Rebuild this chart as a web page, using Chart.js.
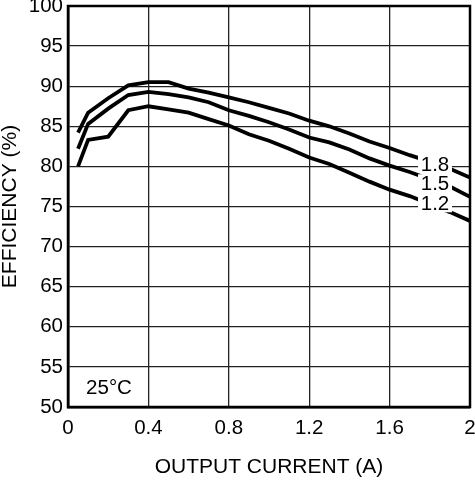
<!DOCTYPE html>
<html>
<head>
<meta charset="utf-8">
<script src="https://cdn.jsdelivr.net/npm/chart.js@4.4.1/dist/chart.umd.min.js"></script>
<style>
html,body{margin:0;padding:0;background:#fff;}
#wrap{width:475px;height:480px;position:relative;}
</style>
</head>
<body>
<div id="wrap"><canvas id="c" width="475" height="480"></canvas></div>
<script>
const currents = [0.05, 0.1, 0.2, 0.3, 0.4, 0.5, 0.6, 0.7, 0.8, 0.9, 1.0, 1.1, 1.2, 1.3, 1.4, 1.5, 1.6, 1.7, 1.8, 1.9, 2.0];
const eff18 = [84.2, 86.7, 88.5, 90.1, 90.5, 90.5, 89.7, 89.2, 88.6, 88.0, 87.3, 86.6, 85.7, 85.0, 84.1, 83.1, 82.3, 81.4, 80.6, 79.7, 78.6];
const eff15 = [82.2, 85.3, 87.2, 88.9, 89.3, 89.0, 88.6, 88.0, 87.0, 86.3, 85.5, 84.6, 83.6, 83.0, 82.1, 81.0, 80.1, 79.3, 78.4, 77.5, 76.2];
const eff12 = [80.0, 83.3, 83.7, 87.0, 87.5, 87.1, 86.7, 85.9, 85.1, 84.0, 83.2, 82.2, 81.1, 80.3, 79.2, 78.1, 77.1, 76.3, 75.3, 74.3, 73.2];
const seriesNames = ['1.8', '1.5', '1.2'];
const labelX = 1.826;
const labelY = [80.3, 77.9, 75.4];
const xTicks = [0, 0.4, 0.8, 1.2, 1.6, 2];
const yMin = 50, yMax = 100, yStep = 5;
const tempNote = '25°C';
const xTitle = 'OUTPUT CURRENT (A)';
const yTitle = 'EFFICIENCY (%)';

const FONT = 'Liberation Sans, Arial, sans-serif';

function pts(ys){ return currents.map((x,i)=>({x:x, y:ys[i]})); }

const annot = {
  id: 'annot',
  afterDatasetsDraw(chart){
    const ctx = chart.ctx;
    const xs = chart.scales.x, ys = chart.scales.y;
    const a = chart.chartArea;
    ctx.save();
    ctx.font = '20.5px ' + FONT;
    ctx.textAlign = 'center';
    ctx.textBaseline = 'middle';
    seriesNames.forEach((n,i)=>{
      const px = xs.getPixelForValue(labelX);
      const py = ys.getPixelForValue(labelY[i]);
      ctx.fillStyle = '#fff';
      ctx.fillRect(px-17, py-9, 34, 18);
      ctx.fillStyle = '#000';
      ctx.fillText(n, px, py+1);
    });
    ctx.textAlign = 'left';
    ctx.fillText(tempNote, xs.getPixelForValue(0.09), ys.getPixelForValue(52.3));
    // frame
    ctx.strokeStyle = '#000';
    ctx.lineWidth = 2.5;
    ctx.strokeRect(a.left, a.top, a.right-a.left, a.bottom-a.top);
    ctx.restore();
  }
};

new Chart(document.getElementById('c'), {
  type: 'line',
  data: {
    datasets: [
      {label: seriesNames[0], data: pts(eff18)},
      {label: seriesNames[1], data: pts(eff15)},
      {label: seriesNames[2], data: pts(eff12)}
    ].map(d=>Object.assign(d,{borderColor:'#000', borderWidth:3.8, pointRadius:0, tension:0, fill:false}))
  },
  options: {
    responsive: false,
    animation: false,
    devicePixelRatio: 1,
    layout: {padding: {top: 0, right: 0, left: 0, bottom: 0}},
    plugins: {legend: {display:false}, tooltip: {enabled:false}},
    scales: {
      x: {
        type: 'linear', min: 0, max: 2,
        afterBuildTicks(s){ s.ticks = xTicks.map(v=>({value:v})); },
        afterFit(s){ s.height = 73; s.paddingRight = 5; },
        ticks: {color:'#000', font:{family:FONT, size:20.5}, padding: 9, maxRotation:0,
          callback: v => String(v)},
        grid: {color:'#222', lineWidth:1.3, drawTicks:false},
        border: {display:true, color:'#000', width:2.5},
        title: {display:true, text:xTitle, color:'#000', font:{family:FONT, size:21}, padding:0}
      },
      y: {
        min: yMin, max: yMax,
        afterFit(s){ s.width = 68; s.paddingTop = 6; },
        ticks: {stepSize: yStep, color:'#000', font:{family:FONT, size:20.5}, padding: 5},
        grid: {color:'#222', lineWidth:1.3, drawTicks:false},
        border: {display:true, color:'#000', width:2.5},
        title: {display:true, text:yTitle, color:'#000', font:{family:FONT, size:21}, padding:-2}
      }
    }
  },
  plugins: [annot]
});
</script>
</body>
</html>
